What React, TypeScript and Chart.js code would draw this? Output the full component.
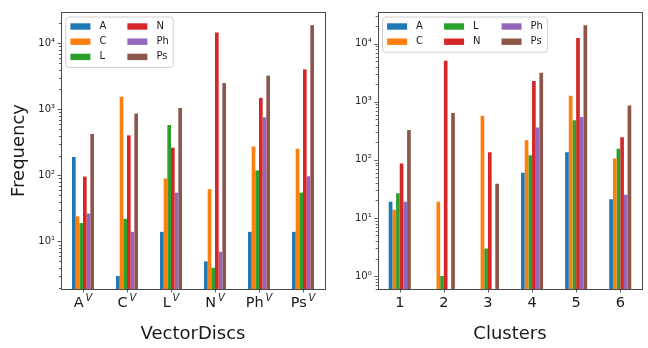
import React, { useEffect, useRef } from "react";
import { Chart, registerables } from "chart.js";
Chart.register(...registerables);

const seriesNames = ["A", "C", "L", "N", "Ph", "Ps"];
const seriesColors = ["#1f77b4", "#ff7f0e", "#2ca02c", "#d62728", "#9467bd", "#8c564b"];

// Left panel: VectorDiscs (labels shown with superscript V)
const discCategories = ["A", "C", "L", "N", "Ph", "Ps"];
const discSuperscript = "V";
const discA = [190, 3, 14, 5, 14, 14];
const discC = [24, 1550, 90, 62, 275, 254];
const discL = [19, 22, 580, 4, 119, 55];
const discN = [96, 404, 263, 14600, 1490, 4020];
const discPh = [26.5, 14, 55, 7, 762, 97];
const discPs = [424, 863, 1047, 2500, 3240, 18750];

// Right panel: Clusters
const clusterCategories = ["1", "2", "3", "4", "5", "6"];
const clusterA = [19, null, null, 60, 135, 21];
const clusterC = [13.8, 19, 573, 218, 1273, 106];
const clusterL = [26.7, 1, 3, 120, 478, 156];
const clusterN = [87, 5050, 135, 2275, 12450, 245];
const clusterPh = [19, null, null, 360, 544, 25];
const clusterPs = [325, 643, 38.8, 3140, 20800, 865];

const yTickValues = [1, 10, 100, 1000, 10000];
const yTickLabels = ["10⁰", "10¹", "10²", "10³", "10⁴"];

const FONT = '"DejaVu Sans", sans-serif';

function decorPlugin(superscript: string | null, legendCols: number) {
  return {
    id: "decor",
    afterDraw(chart: any) {
      const ctx = chart.ctx;
      const area = chart.chartArea;
      const xs = chart.scales.x;
      const ys = chart.scales.y;
      ctx.save();
      // frame
      ctx.strokeStyle = "#4a4a4a";
      ctx.lineWidth = 1;
      ctx.strokeRect(Math.round(area.left) + 0.5, Math.round(area.top) + 0.5,
        Math.round(area.right) - Math.round(area.left), Math.round(area.bottom) - Math.round(area.top));
      // y ticks
      ctx.strokeStyle = "#333";
      ctx.lineWidth = 0.8;
      const lo = Math.floor(Math.log10(ys.min));
      const hi = Math.ceil(Math.log10(ys.max));
      for (let d = lo; d <= hi; d++) {
        for (let k = 1; k <= 9; k++) {
          const v = k * Math.pow(10, d);
          if (v < ys.min || v > ys.max) continue;
          const py = Math.round(ys.getPixelForValue(v)) + 0.5;
          const len = k === 1 ? 3.5 : 2;
          ctx.beginPath();
          ctx.moveTo(area.left, py);
          ctx.lineTo(area.left - len, py);
          ctx.stroke();
        }
      }
      // x ticks + labels
      const labels = chart.data.labels;
      for (let i = 0; i < labels.length; i++) {
        const px = Math.round(xs.getPixelForTick(i)) + 0.5;
        ctx.beginPath();
        ctx.moveTo(px, area.bottom);
        ctx.lineTo(px, area.bottom + 3.5);
        ctx.stroke();
        ctx.fillStyle = "#1a1a1a";
        ctx.textBaseline = "alphabetic";
        ctx.textAlign = "left";
        ctx.font = "14.5px " + FONT;
        const main = String(labels[i]);
        const w1 = ctx.measureText(main).width;
        let w2 = 0;
        const gap = 1.8;
        if (superscript) {
          ctx.font = "italic 10px " + FONT;
          w2 = ctx.measureText(superscript).width + gap;
        }
        const start = xs.getPixelForTick(i) - (w1 + w2) / 2;
        ctx.font = "14.5px " + FONT;
        ctx.fillText(main, start, area.bottom + 17.7);
        if (superscript) {
          ctx.font = "italic 10px " + FONT;
          ctx.fillText(superscript, start + w1 + gap, area.bottom + 11.7);
        }
      }
      // legend (column-major like matplotlib)
      const ds = chart.data.datasets;
      const n = ds.length;
      const rows = Math.ceil(n / legendCols);
      ctx.font = "10px " + FONT;
      const colX: number[] = [];
      const colW: number[] = [];
      let cx = area.left + 9.4;
      for (let c = 0; c < legendCols; c++) {
        let mw = 0;
        for (let r = 0; r < rows; r++) {
          const idx = c * rows + r;
          if (idx < n) mw = Math.max(mw, ctx.measureText(ds[idx].label).width);
        }
        colX.push(cx);
        colW.push(mw);
        cx += 29 + mw + 21;
      }
      const rowY = (r: number) => area.top + 14.5 + r * 15.2;
      const bx0 = area.left + 4.8;
      const by0 = area.top + 5;
      const bx1 = colX[legendCols - 1] + 29 + colW[legendCols - 1] + 4.5;
      const by1 = rowY(rows - 1) + 10.5;
      ctx.beginPath();
      ctx.roundRect(bx0, by0, bx1 - bx0, by1 - by0, 3);
      ctx.fillStyle = "rgba(255,255,255,0.8)";
      ctx.fill();
      ctx.strokeStyle = "#d0d0d0";
      ctx.lineWidth = 1;
      ctx.stroke();
      for (let idx = 0; idx < n; idx++) {
        const c = Math.floor(idx / rows);
        const r = idx % rows;
        const y = rowY(r);
        ctx.fillStyle = ds[idx].backgroundColor;
        ctx.fillRect(colX[c], y - 3.2, 20, 6.4);
        ctx.fillStyle = "#1a1a1a";
        ctx.textBaseline = "middle";
        ctx.textAlign = "left";
        ctx.fillText(ds[idx].label, colX[c] + 29, y);
      }
      ctx.restore();
    },
  };
}

function makeConfig(opts: any) {
  const { labels, series, yMin, yMax, yTitle, xTitle, yAxisWidth, padRight, superscript, legendCols } = opts;
  return {
    type: "bar",
    data: {
      labels,
      datasets: series.map((values: any, i: number) => ({
        label: seriesNames[i],
        data: values,
        backgroundColor: seriesColors[i],
        borderWidth: 0,
        categoryPercentage: 0.5,
        barPercentage: 1.0,
      })),
    },
    options: {
      responsive: false,
      animation: false,
      devicePixelRatio: 1,
      layout: { padding: { top: 5, right: padRight, left: 0, bottom: 0 } },
      plugins: { legend: { display: false }, tooltip: { enabled: false } },
      scales: {
        x: {
          type: "category",
          offset: true,
          grid: { display: false, drawTicks: false },
          border: { display: false },
          ticks: { display: false },
          title: {
            display: true,
            text: xTitle,
            color: "#1a1a1a",
            font: { size: 18, family: FONT, lineHeight: 1.2 },
            padding: { top: 0, bottom: 2.8 },
          },
          afterFit(scale: any) {
            scale.height = 59;
          },
        },
        y: {
          type: "logarithmic",
          min: yMin,
          max: yMax,
          grid: { display: false, drawTicks: false },
          border: { display: false },
          ticks: {
            color: "#262626",
            font: { size: 10, family: FONT },
            padding: 6,
            autoSkip: false,
            callback: (value: number) => {
              const i = yTickValues.indexOf(value);
              return i >= 0 ? yTickLabels[i] : "";
            },
          },
          afterBuildTicks(scale: any) {
            scale.ticks = yTickValues
              .filter((v) => v >= scale.min && v <= scale.max)
              .map((v) => ({ value: v, major: true }));
          },
          title: {
            display: !!yTitle,
            text: yTitle || "",
            color: "#1a1a1a",
            font: { size: 18, family: FONT, lineHeight: 1.2 },
            padding: { top: 8.6, bottom: 0 },
          },
          afterFit(scale: any) {
            scale.width = yAxisWidth;
          },
        },
      },
    },
    plugins: [decorPlugin(superscript, legendCols)],
  };
}

export default function App() {
  const leftRef = useRef<HTMLCanvasElement>(null);
  const rightRef = useRef<HTMLCanvasElement>(null);

  useEffect(() => {
    Chart.defaults.font.family = FONT;
    const left = new Chart(
      leftRef.current as HTMLCanvasElement,
      makeConfig({
        labels: discCategories,
        series: [discA, discC, discL, discN, discPh, discPs],
        yMin: 1.91,
        yMax: 29760,
        yTitle: "Frequency",
        xTitle: "VectorDiscs",
        yAxisWidth: 61,
        padRight: 5,
        superscript: discSuperscript,
        legendCols: 2,
      }) as any
    );
    const right = new Chart(
      rightRef.current as HTMLCanvasElement,
      makeConfig({
        labels: clusterCategories,
        series: [clusterA, clusterC, clusterL, clusterN, clusterPh, clusterPs],
        yMin: 0.612,
        yMax: 35000,
        yTitle: null,
        xTitle: "Clusters",
        yAxisWidth: 47.7,
        padRight: 5.7,
        superscript: null,
        legendCols: 3,
      }) as any
    );
    return () => {
      left.destroy();
      right.destroy();
    };
  }, []);

  return (
    <div style={{ position: "absolute", left: 0, top: 0, width: 648, height: 348, background: "#fff" }}>
      <canvas ref={leftRef} width={330} height={348} style={{ position: "absolute", left: 0, top: 0, width: 330, height: 348 }} />
      <canvas ref={rightRef} width={318} height={348} style={{ position: "absolute", left: 330, top: 0, width: 318, height: 348 }} />
    </div>
  );
}
